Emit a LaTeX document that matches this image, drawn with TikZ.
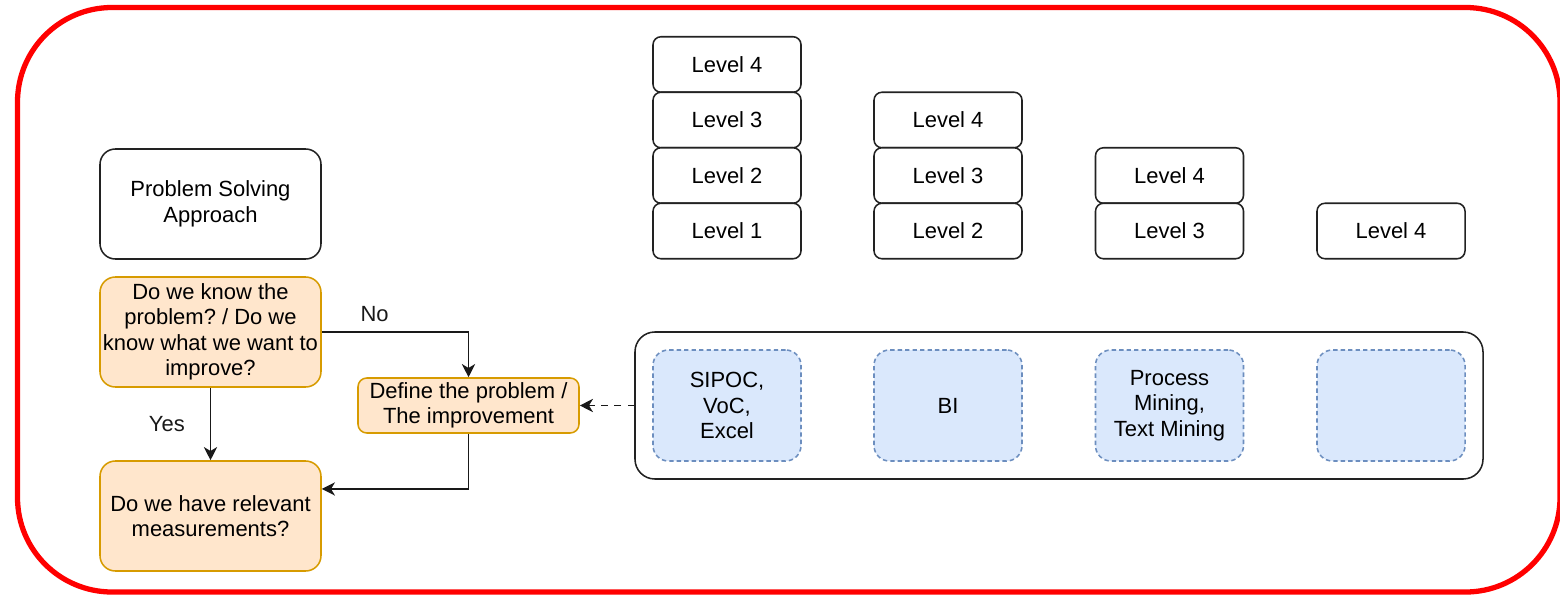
\documentclass[tikz,border=0pt]{standalone}
\usepackage{fontspec}
\setmainfont{Liberation Sans}
\usetikzlibrary{arrows.meta}
\frenchspacing

\definecolor{askfill}{HTML}{FFE6CC}
\definecolor{askline}{HTML}{D79B00}
\definecolor{toolfill}{HTML}{DAE8FC}
\definecolor{toolline}{HTML}{6C8EBF}
\definecolor{boxline}{HTML}{222222}

% one pixel of the layout
\newcommand{\pxu}{0.455pt}

\tikzset{
  basebox/.style={rectangle, align=center, font=\fontsize{10}{11.6}\selectfont,
    line width=0.7pt, inner sep=1pt},
  plainbox/.style={basebox, draw=boxline, fill=white, rounded corners=7pt,
    minimum width=221*\pxu, minimum height=110*\pxu},
  askbox/.style={basebox, draw=askline, fill=askfill, rounded corners=7pt,
    minimum width=221*\pxu, minimum height=110*\pxu},
  definebox/.style={basebox, draw=askline, fill=askfill, rounded corners=4pt,
    minimum width=221*\pxu, minimum height=55*\pxu},
  levelbox/.style={basebox, draw=boxline, fill=white, rounded corners=3.6pt,
    minimum width=148*\pxu, minimum height=55.5*\pxu},
  toolbox/.style={basebox, draw=toolline, fill=toolfill, rounded corners=7pt,
    dash pattern=on 2pt off 1.4pt, minimum width=148*\pxu, minimum height=111*\pxu},
  groupbox/.style={basebox, draw=boxline, fill=white, rounded corners=9pt,
    minimum width=848*\pxu, minimum height=147*\pxu},
  link/.style={-{Stealth[length=6pt,width=6pt,inset=1.8pt]}, line width=0.75pt, black!90},
  tag/.style={font=\fontsize{10}{11.6}\selectfont}
}

\begin{document}
\begin{tikzpicture}[x=\pxu, y=-\pxu]

  % page and red frame
  \clip (0,0) rectangle (1560,597);
  \draw[red, line width=2.4pt, rounded corners=43pt] (17.5,7.5) rectangle (1560,592);

  % flow on the left
  \node[plainbox] (approach) at (210.5,204) {Problem Solving\\Approach};
  \node[askbox] (know) at (210.5,332) {Do we know the\\problem? / Do we\\know what we want to\\improve?};
  \node[askbox] (measure) at (210.5,516) {Do we have relevant\\measurements?};
  \node[definebox] (define) at (468.5,405.5) {Define the problem /\\The improvement};

  % level stacks
  \node[levelbox] (a4) at (727,64.5) {Level 4};
  \node[levelbox] (a3) at (727,120) {Level 3};
  \node[levelbox] (a2) at (727,175.5) {Level 2};
  \node[levelbox] (a1) at (727,231) {Level 1};

  \node[levelbox] (b4) at (948,120) {Level 4};
  \node[levelbox] (b3) at (948,175.5) {Level 3};
  \node[levelbox] (b2) at (948,231) {Level 2};

  \node[levelbox] (c4) at (1169.5,175.5) {Level 4};
  \node[levelbox] (c3) at (1169.5,231) {Level 3};

  \node[levelbox] (d4) at (1391,231) {Level 4};

  % tool group
  \node[groupbox] (tools) at (1059,405.5) {};
  \node[toolbox] (sipoc) at (727,405.5) {SIPOC,\\VoC,\\Excel};
  \node[toolbox] (bi) at (948,405.5) {BI};
  \node[toolbox] (mining) at (1169.5,405.5) {Process\\Mining,\\Text Mining};
  \node[toolbox] (spare) at (1391,405.5) {};

  % connectors
  \draw[link] (know.east) -| (define.north)
    node[tag, pos=0.18, above=1pt] (no) {No};
  \draw[link] (know.south) -- (measure.north)
    node[tag, midway, left=8pt] (yes) {Yes};
  \draw[link] (define.south) |- ([yshift=12.3pt]measure.east);
  \draw[link, dashed] (tools.west) -- (define.east);

\end{tikzpicture}
\end{document}
